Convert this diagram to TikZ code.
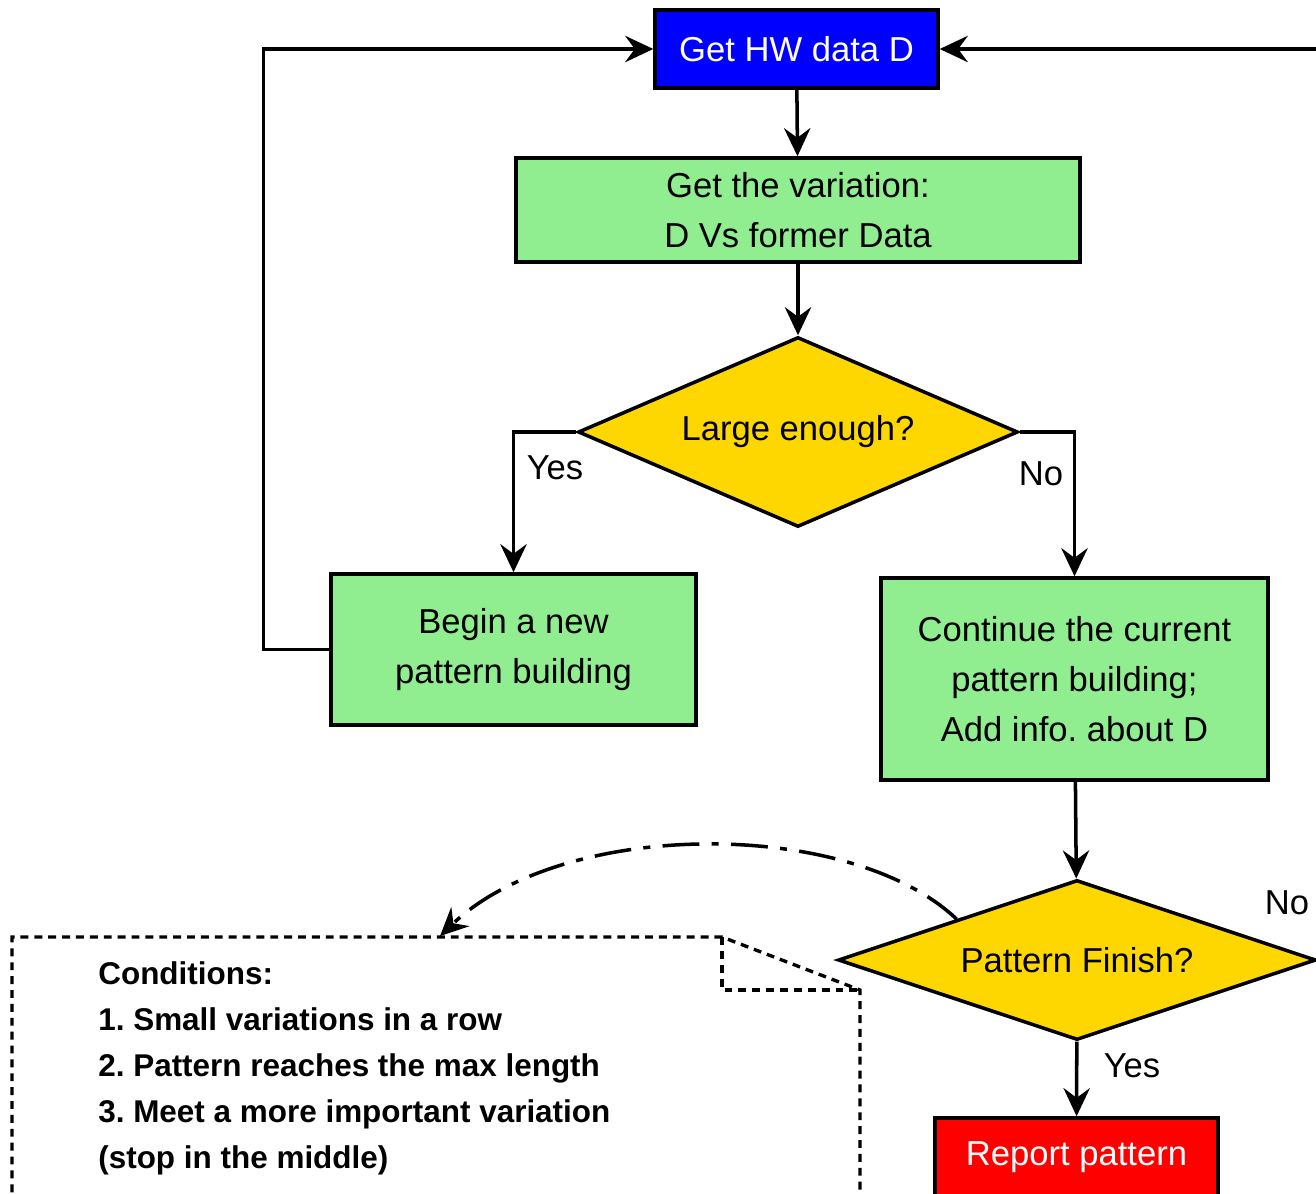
\documentclass[tikz,border=0pt]{standalone}
\usepackage{fontspec}
\setmainfont{Liberation Sans}
\usetikzlibrary{arrows.meta}
\usetikzlibrary{shapes.geometric}
\usetikzlibrary{positioning}
\definecolor{hwblue}{RGB}{0,0,255}
\definecolor{stepgreen}{RGB}{144,238,144}
\definecolor{askgold}{RGB}{255,215,0}
\definecolor{outred}{RGB}{255,0,0}
\frenchspacing
\newcommand{\mainfnt}{\fontsize{19.7}{28.5}\selectfont}
\newcommand{\notefnt}{\fontsize{17.9}{26.2}\selectfont\bfseries}
\tikzset{proc/.style = {draw, line width=2pt, fill=stepgreen, align=center,
                        inner sep=0, font=\mainfnt}}
\tikzset{ask/.style = {diamond, draw, line width=2pt, fill=askgold, inner sep=0,
                       font=\mainfnt}}
\tikzset{lbl/.style = {inner sep=0, font=\mainfnt}}
\tikzset{arr/.style = {line width=2pt, -{Stealth[length=16pt, width=15pt, inset=5.5pt]}}}
\tikzset{notebox/.style = {line width=1.9pt, dash pattern=on 4.5pt off 3.4pt}}

\begin{document}
\begin{tikzpicture}[x=0.02cm, y=-0.02cm]
    \useasboundingbox (0, 0) rectangle (1316, 1194);
    \clip (0, 0) rectangle (1316, 1194);

    % boxes
    \node [proc, fill=hwblue, text=white, minimum width=5.66cm, minimum height=1.56cm]
        (get) at (796.5, 49) {Get HW data D};
    \node [proc, minimum width=11.28cm, minimum height=2.08cm]
        (var) at (798, 210) {Get the variation:\\D Vs former Data};
    \node [ask, aspect=2.3, minimum width=8.8cm, minimum height=3.8cm]
        (large) at (798, 432) {Large enough?};
    \node [proc, minimum width=7.3cm, minimum height=3.02cm]
        (begin) at (513.5, 649.5) {Begin a new\\pattern building};
    \node [proc, minimum width=7.74cm, minimum height=4.04cm]
        (cont) at (1074.5, 679) {Continue the current\\pattern building;\\Add info. about D};
    \node [ask, aspect=3, minimum width=9.56cm, minimum height=3.2cm]
        (finish) at (1077, 960) {Pattern Finish?};
    \node [proc, fill=outred, text=white, minimum width=5.66cm, minimum height=1.56cm]
        (report) at (1076.5, 1157) {Report pattern};

    % arrows
    \draw [arr] (get) -- (var);
    \draw [arr] (var) -- (large);
    \draw [arr] (large.west) -| (begin.north);
    \draw [arr] (large.east) -| (cont.north);
    \draw [arr] (begin.west) -- ++(-66, 0) |- (get.west);
    \draw [arr] (cont) -- (finish);
    \draw [arr] (finish.east) -- ++(40, 0) |- (get.east);
    \draw [arr] (finish) -- (report);

    \node [lbl] (yes1) at (555, 468) {Yes};
    \node [lbl] (no1) at (1041, 474) {No};
    \node [lbl] (no2) at (1287, 903) {No};
    \node [lbl] (yes2) at (1132, 1066) {Yes};

    % note
    \draw [notebox] (12, 1220) -- (12, 937) -- (722, 937) -- (860, 990) -- (860, 1220);
    \draw [notebox] (722, 937) -- (722, 990) -- (860, 990);
    \node [inner sep=0, anchor=north west, align=left, font=\notefnt] (cond) at (98, 961)
        {Conditions:\\1. Small variations in a row\\2. Pattern reaches the max length\\
         3. Meet a more important variation\\(stop in the middle)};
    \coordinate (notetop) at (440, 936);
    \draw [arr, dash pattern=on 21pt off 7pt on 4pt off 7pt]
        (finish.north west) .. controls (850, 818) and (564, 818) .. (notetop);
\end{tikzpicture}
\end{document}
